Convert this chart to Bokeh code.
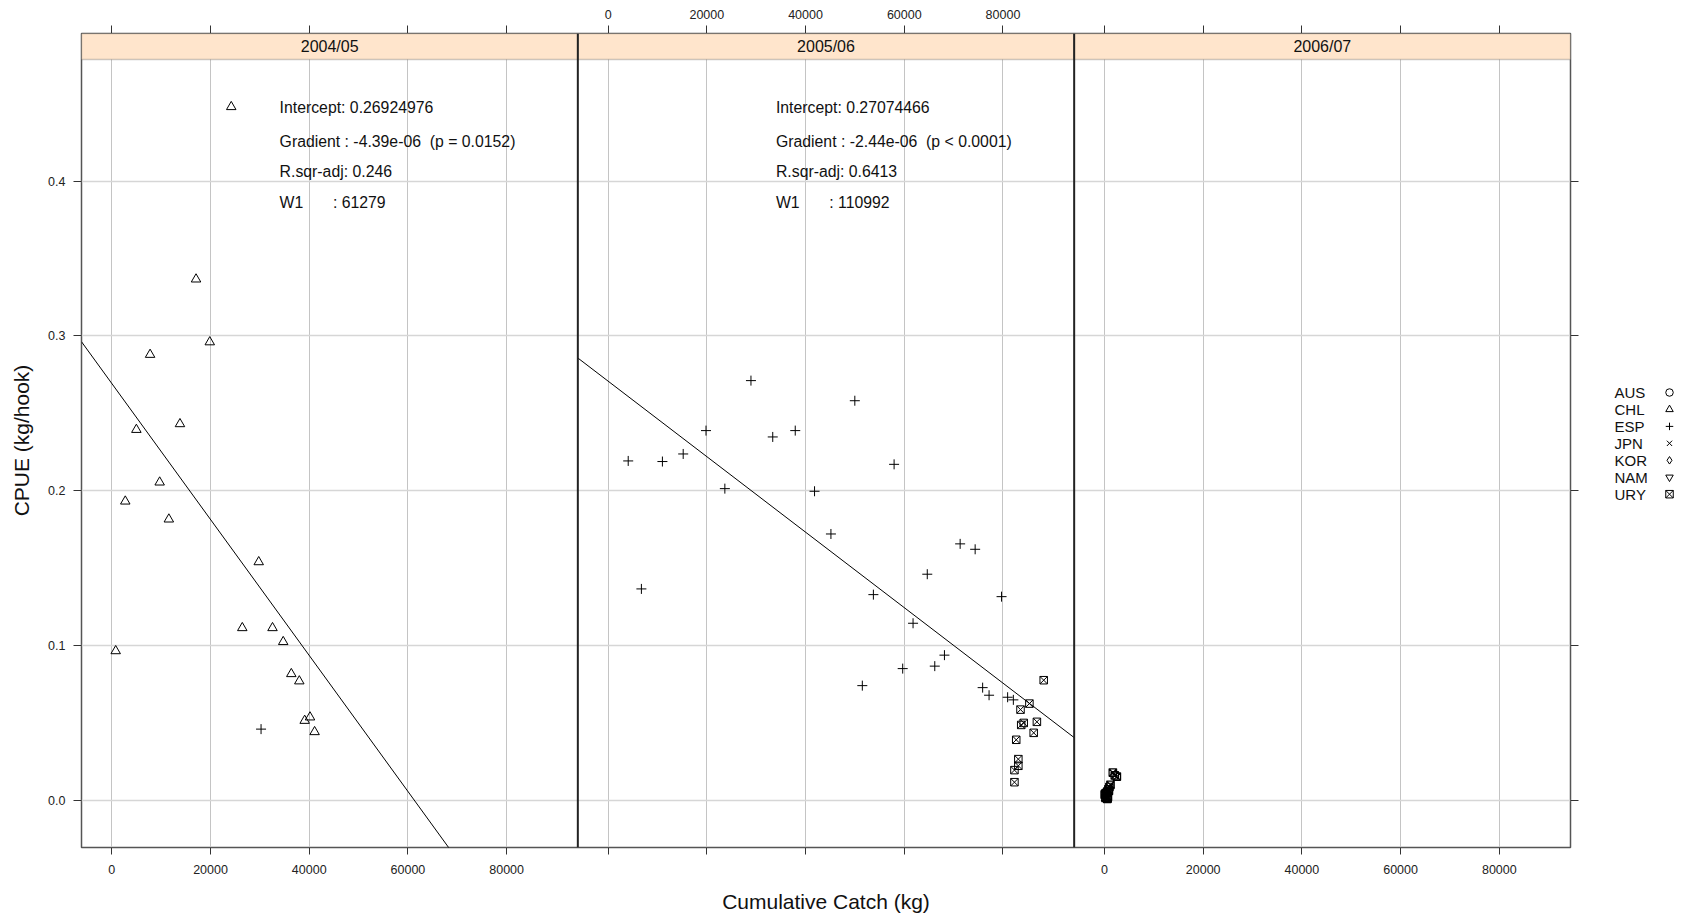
from bokeh.plotting import figure
from bokeh.models import (Range1d, LinearAxis, FixedTicker, Grid, Span, BoxAnnotation,
                          Label, ColumnDataSource, PrintfTickFormatter)
from bokeh.layouts import row
from bokeh.core.properties import value
from bokeh.embed import file_html
from bokeh.resources import INLINE

FONT = "Liberation Sans"

# ---------------- data ----------------
seasons = ["2004/05", "2005/06", "2006/07"]
x_ticks = [0, 20000, 40000, 60000, 80000]
y_ticks = [0.0, 0.1, 0.2, 0.3, 0.4]

chl_0405_x = [24200, 17070, 19850, 7760, 13810, 4980, 9700, 2730, 11560, 29770,
              26440, 32560, 34730, 790, 36370, 37990, 40160, 39080, 41090]
chl_0405_y = [0.448, 0.3366, 0.296, 0.2879, 0.2431, 0.2394, 0.2054, 0.1931, 0.1815, 0.1539,
              0.1113, 0.1113, 0.1023, 0.0964, 0.0816, 0.0769, 0.0536, 0.0514, 0.0441]
esp_0405_x = [30240]
esp_0405_y = [0.0459]

esp_0506_x = [28940, 49980, 19830, 37910, 33350, 4070, 11000, 15210, 57940, 23650,
              41820, 45140, 71320, 74360, 64660, 6740, 53740, 79710, 61780, 68140,
              66180, 59680, 51500, 75880, 77180, 80940, 82100]
esp_0506_y = [0.2711, 0.2581, 0.2388, 0.2388, 0.2347, 0.2192, 0.2188, 0.2237, 0.2170, 0.2013,
              0.1996, 0.1720, 0.1656, 0.1621, 0.1460, 0.1365, 0.1328, 0.1315, 0.1143, 0.0937,
              0.0866, 0.0850, 0.0740, 0.0727, 0.0678, 0.0665, 0.0648]
ury_0506_x = [88250, 85350, 83550, 86870, 84200, 83690, 86220, 82680, 83110, 83110, 82320, 82320]
ury_0506_y = [0.0775, 0.0624, 0.0585, 0.0506, 0.0499, 0.0486, 0.0435, 0.0390, 0.0265, 0.0222,
              0.0194, 0.0116]

ury_0607_x = [1700, 2510, 2100, 1220, 1000, 800, 570, 300, 80, 400, 200, 570, 700, 100, 900, 650]
ury_0607_y = [0.0178, 0.0152, 0.0160, 0.0099, 0.0085, 0.0070, 0.0056, 0.0045, 0.0034, 0.0025,
              0.0015, 0.0008, 0.0020, 0.0040, 0.0060, 0.0012]

reg_intercept = [0.26924976, 0.27074466]
reg_w1 = [61279, 110992]
reg_gradient = ["-4.39e-06", "-2.44e-06"]
reg_p = ["(p = 0.0152)", "(p < 0.0001)"]
reg_rsq = ["0.246", "0.6413"]

countries = ["AUS", "CHL", "ESP", "JPN", "KOR", "NAM", "URY"]
country_markers = ["circle", "triangle", "cross", "x", "diamond", "inverted_triangle", "square_x"]

# ---------------- scales ----------------
XMIN, XMAX = -6137, 94420
W = XMAX - XMIN
YBOT, YSTRIP, YTOP = -0.0306, 0.4786, 0.4954

B_LEFT, B_RIGHT, B_TOP, B_BOTTOM = 81, 12, 33, 70
FW, FH = 1489, 814


def pos(k, t):
    return round(k + (t - XMIN) / W, 6)


tick_pos = [pos(k, t) for k in range(3) for t in x_ticks]

p = figure(title=None, x_range=Range1d(0, 3), y_range=Range1d(YBOT, YTOP),
           frame_width=FW, frame_height=FH,
           min_border_left=B_LEFT, min_border_right=B_RIGHT,
           min_border_top=B_TOP, min_border_bottom=B_BOTTOM,
           x_axis_type=None, y_axis_type=None,
           output_backend="svg", toolbar_location=None)
p.extra_x_ranges = {f"p{k}": Range1d(XMIN - k * W, XMIN + (3 - k) * W) for k in range(3)}
p.outline_line_color = "#555555"
p.outline_line_width = 1.5
p.background_fill_color = "white"
p.border_fill_color = "white"

# grids
xg = Grid(dimension=0, ticker=FixedTicker(ticks=tick_pos), grid_line_color="#c4c4c4", grid_line_width=1)
yg = Grid(dimension=1, ticker=FixedTicker(ticks=y_ticks), grid_line_color="#d6d6d6", grid_line_width=1.5)
p.add_layout(xg)
p.add_layout(yg)


def style_axis(ax, tick_out):
    ax.axis_line_color = None
    ax.major_tick_line_color = "#333333"
    ax.major_tick_out = tick_out
    ax.major_tick_in = 0
    ax.minor_tick_out = 0
    ax.minor_tick_in = 0
    ax.major_label_text_font = FONT
    ax.major_label_text_font_size = "12.5px"
    ax.major_label_text_color = "#222222"
    ax.axis_label_text_font = FONT
    ax.axis_label_text_font_style = "normal"
    ax.axis_label_text_font_size = "21px"
    ax.axis_label_text_color = "#111111"


bottom_over = {pos(k, t): (str(t) if k in (0, 2) else "") for k in range(3) for t in x_ticks}
top_over = {pos(k, t): (str(t) if k == 1 else "") for k in range(3) for t in x_ticks}

xb = LinearAxis(ticker=FixedTicker(ticks=tick_pos), major_label_overrides=bottom_over,
                axis_label="Cumulative Catch (kg)")
style_axis(xb, 7)
xb.major_label_standoff = 10
xb.axis_label_standoff = 13
p.add_layout(xb, "below")

xt = LinearAxis(ticker=FixedTicker(ticks=tick_pos), major_label_overrides=top_over)
style_axis(xt, 8)
xt.major_label_standoff = 7
p.add_layout(xt, "above")

yl = LinearAxis(ticker=FixedTicker(ticks=y_ticks), formatter=PrintfTickFormatter(format="%.1f"),
                axis_label="CPUE (kg/hook)")
style_axis(yl, 8)
yl.major_label_standoff = 8
yl.axis_label_standoff = 12
p.add_layout(yl, "left")

yr = LinearAxis(ticker=FixedTicker(ticks=y_ticks), major_label_overrides={t: "" for t in y_ticks})
style_axis(yr, 8)
p.add_layout(yr, "right")

# data glyphs
p.scatter(chl_0405_x, chl_0405_y, marker="triangle", size=9.5, fill_color=None,
          line_color="black", line_width=1, x_range_name="p0")
p.scatter(esp_0405_x, esp_0405_y, marker="cross", size=10, line_color="black",
          line_width=1, x_range_name="p0")
p.scatter(esp_0506_x, esp_0506_y, marker="cross", size=10, line_color="black",
          line_width=1, x_range_name="p1")
p.scatter(ury_0506_x, ury_0506_y, marker="square_x", size=7.5, fill_color=None,
          line_color="black", line_width=1, x_range_name="p1")
p.scatter(ury_0607_x, ury_0607_y, marker="square_x", size=7.5, fill_color=None,
          line_color="black", line_width=1.2, x_range_name="p2")

# regression lines and text
for k in range(2):
    a, w1 = reg_intercept[k], reg_w1[k]
    xs = [XMIN, XMAX]
    ys = [a * (1 - xv / w1) for xv in xs]
    p.line(xs, ys, line_color="black", line_width=1, x_range_name=f"p{k}")
    src = ColumnDataSource(dict(
        x=[34000, 34000, 34000, 34000, 44800],
        y=[0.4474, 0.4259, 0.4061, 0.3860, 0.3860],
        t=[f"Intercept: {a}",
           f"Gradient : {reg_gradient[k]} \u00a0{reg_p[k]}",
           f"R.sqr-adj: {reg_rsq[k]}",
           "W1",
           f": {w1}"]))
    p.text("x", "y", text="t", source=src, x_range_name=f"p{k}",
           text_font=value(FONT), text_font_size="15.8px", text_color="#111111",
           text_align="left", text_baseline="middle")

# strips
for k in range(3):
    p.add_layout(BoxAnnotation(left=k, right=k + 1, bottom=YSTRIP, top=YTOP,
                               fill_color="#FFE5CC", fill_alpha=1.0,
                               line_color="#5a5a5a", line_width=1.5, level="annotation"))
    p.add_layout(Label(x=k + 0.5, y=(YSTRIP + YTOP) / 2, text=seasons[k],
                       text_align="center", text_baseline="middle",
                       text_font=FONT, text_font_size="16px", text_color="#111111"))
for k in (1, 2):
    p.add_layout(Span(location=k, dimension="height", line_color="#222222", line_width=2))

# legend figure (pixel coordinates, y downward)
total_h = B_TOP + FH + B_BOTTOM
LW = 100
lf = figure(title=None, frame_width=LW, frame_height=total_h, x_range=Range1d(0, LW),
            y_range=Range1d(total_h, 0), x_axis_type=None, y_axis_type=None,
            min_border=0, output_backend="svg", toolbar_location=None)
lf.outline_line_color = None
lf.background_fill_color = "white"
lf.border_fill_color = "white"
leg_y = [359.0 + i * 16.95 for i in range(len(countries))]
lf.text([32] * len(countries), leg_y, text=countries, text_font=value(FONT),
        text_font_size="15px", text_color="#111111", text_align="left", text_baseline="middle")
lf.scatter([87] * len(countries), leg_y, marker=country_markers, size=7.5,
           fill_color=None, line_color="black", line_width=1)

layout = row(p, lf)
open("out.html", "w").write(file_html(layout, INLINE))
